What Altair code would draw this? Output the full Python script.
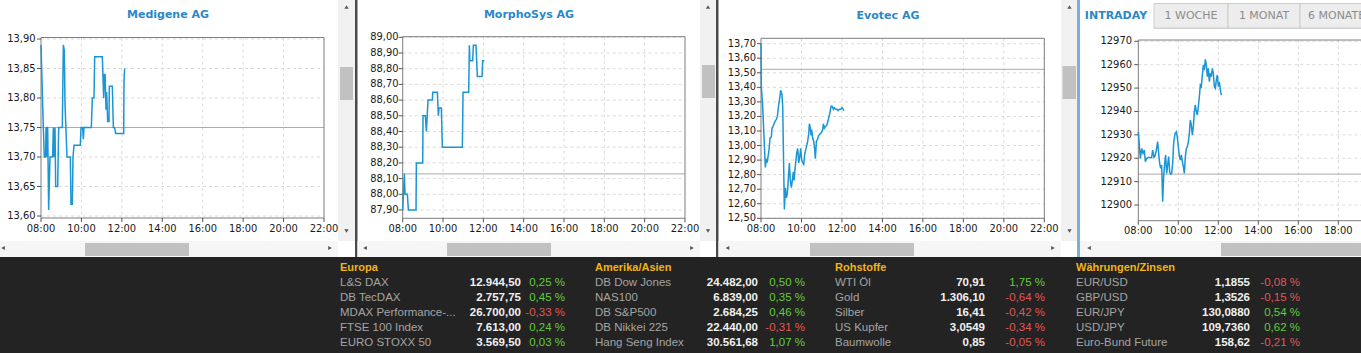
import altair as alt
import pandas as pd

# ---------------- data ----------------
time_ticks = [8, 10, 12, 14, 16, 18, 20, 22]
time_labels = ["08:00", "10:00", "12:00", "14:00", "16:00", "18:00", "20:00", "22:00"]

med_t = [8.000, 8.115, 8.165, 8.230, 8.247, 8.270, 8.297, 8.330, 8.379, 8.445, 8.577, 8.610, 8.643,
         8.693, 8.726, 8.825, 8.874, 9.055, 9.105, 9.154, 9.187, 9.286, 9.451, 9.484, 9.550, 9.583,
         9.633, 9.946, 9.979, 10.060, 10.094, 10.127, 10.490, 10.540, 10.622, 10.655, 11.034, 11.100,
         11.133, 11.170, 11.216, 11.249, 11.298, 11.364, 11.381, 11.529, 11.579, 11.640, 11.694,
         12.090, 12.106, 12.139]
med_v = [13.89, 13.75, 13.70, 13.70, 13.75, 13.70, 13.75, 13.75, 13.61, 13.70, 13.70, 13.75, 13.70,
         13.75, 13.65, 13.65, 13.75, 13.75, 13.89, 13.88, 13.79, 13.70, 13.70, 13.62, 13.62, 13.70,
         13.72, 13.72, 13.75, 13.75, 13.73, 13.75, 13.75, 13.80, 13.80, 13.87, 13.87, 13.80,
         13.84, 13.84, 13.78, 13.81, 13.76, 13.76, 13.82, 13.82, 13.75, 13.75, 13.74,
         13.74, 13.83, 13.85]
med_prev = 13.75
med_yticks = [13.60, 13.65, 13.70, 13.75, 13.80, 13.85, 13.90]

mor_t = [8.000, 8.083, 8.116, 8.231, 8.281, 8.661, 8.678, 8.992, 9.008, 9.124, 9.174, 9.256, 9.471,
         9.488, 9.719, 9.769, 9.802, 9.917, 9.967, 10.959, 10.992, 11.273, 11.306, 11.330, 11.470,
         11.504, 11.636, 11.702, 11.934, 11.967, 12.050]
mor_v = [87.90, 88.13, 88.00, 88.00, 87.90, 87.90, 88.20, 88.20, 88.50, 88.50, 88.40, 88.60, 88.60,
         88.65, 88.65, 88.50, 88.55, 88.55, 88.30, 88.30, 88.65, 88.65, 88.95, 88.85, 88.85,
         88.95, 88.95, 88.75, 88.75, 88.85, 88.85]
mor_prev = 88.13
mor_yticks = [87.90, 88.00, 88.10, 88.20, 88.30, 88.40, 88.50, 88.60, 88.70, 88.80, 88.90, 89.00]

evo_t = [8.000, 8.016, 8.080, 8.214, 8.264, 8.313, 8.396, 8.445, 8.511, 8.544, 8.593, 8.643, 8.709,
         8.758, 8.808, 8.874, 8.940, 8.973, 9.039, 9.072, 9.154, 9.203, 9.253, 9.302, 9.368, 9.401,
         9.451, 9.500, 9.549, 9.599, 9.632, 9.698, 9.764, 9.814, 9.863, 9.912, 9.962, 10.011, 10.061,
         10.110, 10.160, 10.209, 10.259, 10.308, 10.358, 10.391, 10.440, 10.473, 10.506, 10.556,
         10.605, 10.654, 10.687, 10.737, 10.786, 10.852, 10.918, 10.984, 11.050, 11.083, 11.132,
         11.182, 11.248, 11.314, 11.363, 11.412, 11.462, 11.511, 11.577, 11.627, 11.693, 11.742,
         11.808, 11.874, 11.940, 12.006, 12.055, 12.105]
evo_v = [13.70, 13.40, 13.28, 12.85, 12.90, 12.89, 12.97, 13.05, 13.06, 13.12, 13.13, 13.15, 13.17,
         13.18, 13.20, 13.28, 13.34, 13.38, 13.35, 13.27, 12.56, 12.71, 12.64, 12.67, 12.81, 12.88,
         12.76, 12.71, 12.76, 12.82, 12.76, 12.86, 12.95, 12.98, 12.88, 12.92, 12.98, 12.90, 12.88,
         12.87, 12.94, 12.97, 13.00, 13.03, 13.08, 13.15, 13.12, 13.07, 13.11, 13.05,
         13.03, 12.97, 12.91, 13.03, 13.04, 13.07, 13.08, 13.09, 13.11, 13.15, 13.12,
         13.13, 13.14, 13.17, 13.20, 13.23, 13.27, 13.27, 13.25, 13.26, 13.25, 13.25,
         13.24, 13.25, 13.25, 13.26, 13.25, 13.24]
evo_prev = 13.524
evo_yticks = [12.50, 12.60, 12.70, 12.80, 12.90, 13.00, 13.10, 13.20, 13.30, 13.40, 13.50, 13.60, 13.70]

dax_t = [8.002, 8.068, 8.102, 8.168, 8.235, 8.302, 8.352, 8.418, 8.502, 8.585, 8.668, 8.718, 8.785,
         8.835, 8.902, 8.968, 9.018, 9.068, 9.118, 9.168, 9.218, 9.268, 9.318, 9.368, 9.418, 9.468,
         9.518, 9.568, 9.618, 9.668, 9.718, 9.768, 9.835, 9.902, 9.952, 10.002, 10.052, 10.102,
         10.152, 10.202, 10.252, 10.302, 10.352, 10.402, 10.452, 10.502, 10.552, 10.602, 10.652,
         10.702, 10.752, 10.802, 10.852, 10.902, 10.952, 11.002, 11.052, 11.102, 11.152, 11.202,
         11.252, 11.302, 11.352, 11.402, 11.452, 11.502, 11.552, 11.602, 11.652, 11.702, 11.752,
         11.802, 11.852, 11.902, 11.952, 12.002, 12.052, 12.102, 12.152]
dax_v = [12931.3, 12923.5, 12919.9, 12924.2, 12922.1, 12923.5, 12918.5, 12919.9, 12920.4, 12920.2,
         12920.4, 12923.5, 12920.4, 12920.9, 12923.5, 12927.1, 12922.1,
         12917.8, 12915.7, 12917.1, 12901.4, 12912.1, 12917.8, 12921.4, 12913.5, 12917.1, 12920.7,
         12914.2, 12913.2, 12913.5, 12917.8, 12926.4,
         12930.6, 12931.3,
         12928.9, 12924.9, 12920.9, 12919.2, 12921.4, 12918.5, 12916.4, 12913.5, 12920.7, 12924.2,
         12924.9, 12927.1, 12930.6, 12936.3, 12934.2, 12929.9, 12933.5, 12939.9, 12942.8, 12939.9,
         12938.5, 12942.0, 12946.3, 12951.3, 12950.6, 12955.6, 12959.9, 12957.7, 12962.3, 12959.9,
         12954.9, 12958.4, 12952.7, 12956.3, 12954.9, 12958.4, 12956.3, 12950.6, 12949.9, 12953.4,
         12955.6, 12950.6, 12952.7, 12949.2, 12947.0]
dax_prev = 12913.2
dax_yticks = [12900, 12910, 12920, 12930, 12940, 12950, 12960, 12970]

tabs = ["INTRADAY", "1 WOCHE", "1 MONAT", "6 MONATE"]

europa_names = ["L&S DAX", "DB TecDAX", "MDAX Performance-...", "FTSE 100 Index", "EURO STOXX 50"]
europa_vals = ["12.944,50", "2.757,75", "26.700,00", "7.613,00", "3.569,50"]
europa_pct = [0.25, 0.45, -0.33, 0.24, 0.03]

amerika_names = ["DB Dow Jones", "NAS100", "DB S&P500", "DB Nikkei 225", "Hang Seng Index"]
amerika_vals = ["24.482,00", "6.839,00", "2.684,25", "22.440,00", "30.561,68"]
amerika_pct = [0.50, 0.35, 0.46, -0.31, 1.07]

rohstoffe_names = ["WTI Öl", "Gold", "Silber", "US Kupfer", "Baumwolle"]
rohstoffe_vals = ["70,91", "1.306,10", "16,41", "3,0549", "0,85"]
rohstoffe_pct = [1.75, -0.64, -0.42, -0.34, -0.05]

waehrung_names = ["EUR/USD", "GBP/USD", "EUR/JPY", "USD/JPY", "Euro-Bund Future"]
waehrung_vals = ["1,1855", "1,3526", "130,0880", "109,7360", "158,62"]
waehrung_pct = [-0.08, -0.15, 0.54, 0.62, -0.21]

# ---------------- styling ----------------
AXFONT = "DejaVu Sans Condensed, DejaVu Sans"
UIFONT = "DejaVu Sans"
TFONT = "Liberation Sans"
BLUE_T = "#2a88c8"
LINE = "#1b95d4"
TRACK = "#f1f1f1"
THUMB = "#c1c1c1"
SEP = "#4a4a4a"

one = pd.DataFrame({"k": [0]})


def box(x, x2, y, y2, fill, stroke=None, sw=1):
    kw = dict(fill=fill)
    if stroke:
        kw.update(stroke=stroke, strokeWidth=sw)
    else:
        kw.update(strokeWidth=0)
    return alt.Chart(one).mark_rect(**kw).encode(
        x=alt.value(x), x2=alt.value(x2), y=alt.value(y), y2=alt.value(y2))


def tri(x, y, shape):
    return alt.Chart(one).mark_point(shape=shape, filled=True, size=18, color="#555555",
                                     opacity=1).encode(x=alt.value(x), y=alt.value(y))


def label(x, y, text, **kw):
    return alt.Chart(one).mark_text(text=text, baseline="middle", **kw).encode(
        x=alt.value(x), y=alt.value(y))


def panel(t, v, prev, yticks, fmt, x0, x1, yrng, ft, fb, lab_x, lab_y, last_label=22):
    xs = alt.Scale(domain=[8, 22], range=[x0, x1], zero=False, nice=False)
    ys = alt.Scale(domain=[yticks[0], yticks[-1]], range=yrng, zero=False, nice=False)

    def X(f):
        return alt.X(f, type="quantitative", scale=xs, axis=None)

    def Y(f):
        return alt.Y(f, type="quantitative", scale=ys, axis=None)

    series = pd.DataFrame({"t": t, "v": v})
    ydf = pd.DataFrame({"yt": yticks})
    xdf = pd.DataFrame({"xt": time_ticks, "lab": time_labels})
    pdf = pd.DataFrame({"p": [prev]})

    hgrid = alt.Chart(ydf).mark_rule(color="#dadada", strokeDash=[3, 3], strokeWidth=1).encode(
        y=Y("yt"), x=alt.value(x0), x2=alt.value(x1))
    vgrid = alt.Chart(xdf).transform_filter("datum.xt > 8 && datum.xt < 22").mark_rule(
        color="#dadada", strokeDash=[3, 3], strokeWidth=1).encode(
        x=X("xt"), y=alt.value(ft), y2=alt.value(fb))
    prev_rule = alt.Chart(pdf).mark_rule(color="#ababab", strokeWidth=1).encode(
        y=Y("p"), x=alt.value(x0), x2=alt.value(x1))
    frame = box(x0, x1, ft, fb, "transparent", stroke="#7d7d7d", sw=1)
    line = alt.Chart(series).mark_line(color=LINE, strokeWidth=1.5).encode(x=X("t"), y=Y("v"))
    yt_marks = alt.Chart(ydf).mark_rule(color="#555555").encode(
        y=Y("yt"), x=alt.value(x0 - 4), x2=alt.value(x0))
    ylabs = alt.Chart(ydf).transform_calculate(
        lab=f"replace(format(datum.yt, '{fmt}'), '.', ',')").mark_text(
        align="right", baseline="middle", font=AXFONT, fontSize=11, color="#1a1a1a").encode(
        y=Y("yt"), x=alt.value(lab_x), text="lab:N")
    xt_marks = alt.Chart(xdf).mark_rule(color="#555555").encode(
        x=X("xt"), y=alt.value(fb), y2=alt.value(fb + 4))
    xlabs = alt.Chart(xdf).transform_filter(f"datum.xt <= {last_label}").mark_text(
        align="center", baseline="middle", font=AXFONT, fontSize=11, color="#1a1a1a").encode(
        x=X("xt"), y=alt.value(lab_y), text="lab:N")
    return alt.layer(hgrid, vgrid, prev_rule, frame, line, yt_marks, ylabs, xt_marks, xlabs)


def table(header, names, vals, pct, x_name, x_val, x_pct):
    df = pd.DataFrame({"row": [1, 2, 3, 4, 5], "name": names, "val": vals, "pct": pct})
    ys = alt.Scale(domain=[0, 5], range=[268, 343])
    Y = alt.Y("row:Q", scale=ys, axis=None)
    hdr = alt.Chart(pd.DataFrame({"row": [0], "h": [header]})).mark_text(
        align="left", baseline="middle", font=TFONT, fontSize=11, fontWeight="bold",
        color="#f0b41a").encode(x=alt.value(x_name), y=Y, text="h:N")
    n = alt.Chart(df).mark_text(align="left", baseline="middle", font=TFONT, fontSize=11.5,
                                color="#a3a3a3").encode(x=alt.value(x_name), y=Y, text="name:N")
    vv = alt.Chart(df).mark_text(align="right", baseline="middle", font=TFONT, fontSize=11.5,
                                 fontWeight="bold", color="#f0f0f0").encode(
        x=alt.value(x_val), y=Y, text="val:N")
    p = alt.Chart(df).transform_calculate(
        lab="replace(replace(format(datum.pct, '.2f'), '.', ','), '\u2212', '-') + ' %'",
        sgn="datum.pct >= 0 ? 'up' : 'down'").mark_text(
        align="right", baseline="middle", font=TFONT, fontSize=11.5).encode(
        x=alt.value(x_pct), y=Y, text="lab:N",
        color=alt.Color("sgn:N", scale=alt.Scale(domain=["up", "down"],
                                                 range=["#62cc3c", "#e05656"]), legend=None))
    return alt.layer(hdr, n, vv, p)


layers = []

# ---- window chrome: scrollbars, separators ----
# panel 1
layers += [box(338, 355, 0, 241, TRACK), box(340, 353, 67, 100, THUMB),
           tri(346.5, 7, "triangle-up"), tri(346.5, 231, "triangle-down"),
           box(0, 338, 241, 257, "#f6f6f6"), box(85, 189, 243, 256, THUMB),
           tri(3, 248, "triangle-left"), tri(330, 248, "triangle-right"),
           box(355, 357.5, 0, 258, SEP)]
# panel 2
layers += [box(700, 716, 0, 241, TRACK), box(702, 715, 65, 98, THUMB),
           tri(708, 7, "triangle-up"), tri(708, 231, "triangle-down"),
           box(357.5, 700, 241, 257, "#f6f6f6"), box(447, 551, 243, 256, THUMB),
           tri(365, 248, "triangle-left"), tri(692, 248, "triangle-right"),
           box(716, 718.5, 0, 258, SEP)]
# panel 3
layers += [box(1061, 1077, 0, 241, TRACK), box(1062.5, 1076, 66, 99, THUMB),
           tri(1069.5, 7, "triangle-up"), tri(1069.5, 231, "triangle-down"),
           box(718.5, 1061, 241, 257, "#f6f6f6"), box(810, 914, 243, 256, THUMB),
           tri(727.5, 248, "triangle-left"), tri(1053, 248, "triangle-right"),
           box(1077, 1080, 0, 258, "#7aaedb")]
# panel 4
layers += [box(1080, 1361, 241, 257, "#f6f6f6"), box(1221, 1361, 243, 256, THUMB),
           tri(1089, 248, "triangle-left"),
           box(1080, 1361, 28, 28.8, "#cfcfcf"),
           box(1080, 1154, 2, 29, "white"),
           box(1154, 1228, 3.5, 28, "#ededed", stroke="#cccccc"),
           box(1228, 1300, 3.5, 28, "#ededed", stroke="#cccccc"),
           box(1300, 1380, 3.5, 28, "#ededed", stroke="#cccccc")]
layers += [label(1116, 15.5, tabs[0], align="center", font=UIFONT, fontSize=11,
                 fontWeight="bold", color=BLUE_T),
           label(1191, 16, tabs[1], align="center", font=UIFONT, fontSize=11, color="#8c8c8c"),
           label(1264, 16, tabs[2], align="center", font=UIFONT, fontSize=11, color="#8c8c8c"),
           label(1308, 16, tabs[3], align="left", font=UIFONT, fontSize=11, color="#8c8c8c")]

# bottom dark band
layers.append(box(0, 1361, 257, 353, "#232323"))

# ---- chart titles ----
layers += [label(168, 15, "Medigene AG", align="center", font=UIFONT, fontSize=11,
                 fontWeight="bold", color=BLUE_T),
           label(529, 15, "MorphoSys AG", align="center", font=UIFONT, fontSize=11,
                 fontWeight="bold", color=BLUE_T),
           label(888, 16, "Evotec AG", align="center", font=UIFONT, fontSize=11,
                 fontWeight="bold", color=BLUE_T)]

# ---- line charts ----
layers.append(panel(med_t, med_v, med_prev, med_yticks, ".2f", 41, 324, [216, 39],
                    37.5, 218, 35.5, 228.5))
layers.append(panel(mor_t, mor_v, mor_prev, mor_yticks, ".2f", 402.7, 685, [210, 37.3],
                    36.7, 218.3, 398.5, 228.5))
layers.append(panel(evo_t, evo_v, evo_prev, evo_yticks, ".2f", 761, 1044.3, [218.3, 43.7],
                    38.3, 218.3, 756, 229))
layers.append(panel(dax_t, dax_v, dax_prev, dax_yticks, "d", 1138.3, 1418.3, [205, 41.3],
                    40, 220.7, 1132, 230.5, last_label=18))

# ---- quote tables ----
layers.append(table("Europa", europa_names, europa_vals, europa_pct, 340, 521, 565))
layers.append(table("Amerika/Asien", amerika_names, amerika_vals, amerika_pct, 595, 758, 805))
layers.append(table("Rohstoffe", rohstoffe_names, rohstoffe_vals, rohstoffe_pct, 835, 985, 1045))
layers.append(table("Währungen/Zinsen", waehrung_names, waehrung_vals, waehrung_pct,
                    1076, 1250, 1300))

chart = alt.layer(*layers).properties(
    width=1361, height=353, padding=0,
    autosize=alt.AutoSizeParams(type="none"),
    background="white",
).resolve_scale(x="independent", y="independent").configure_view(strokeWidth=0)

chart.save("out.html", embed_options={"renderer": "svg", "actions": False})
